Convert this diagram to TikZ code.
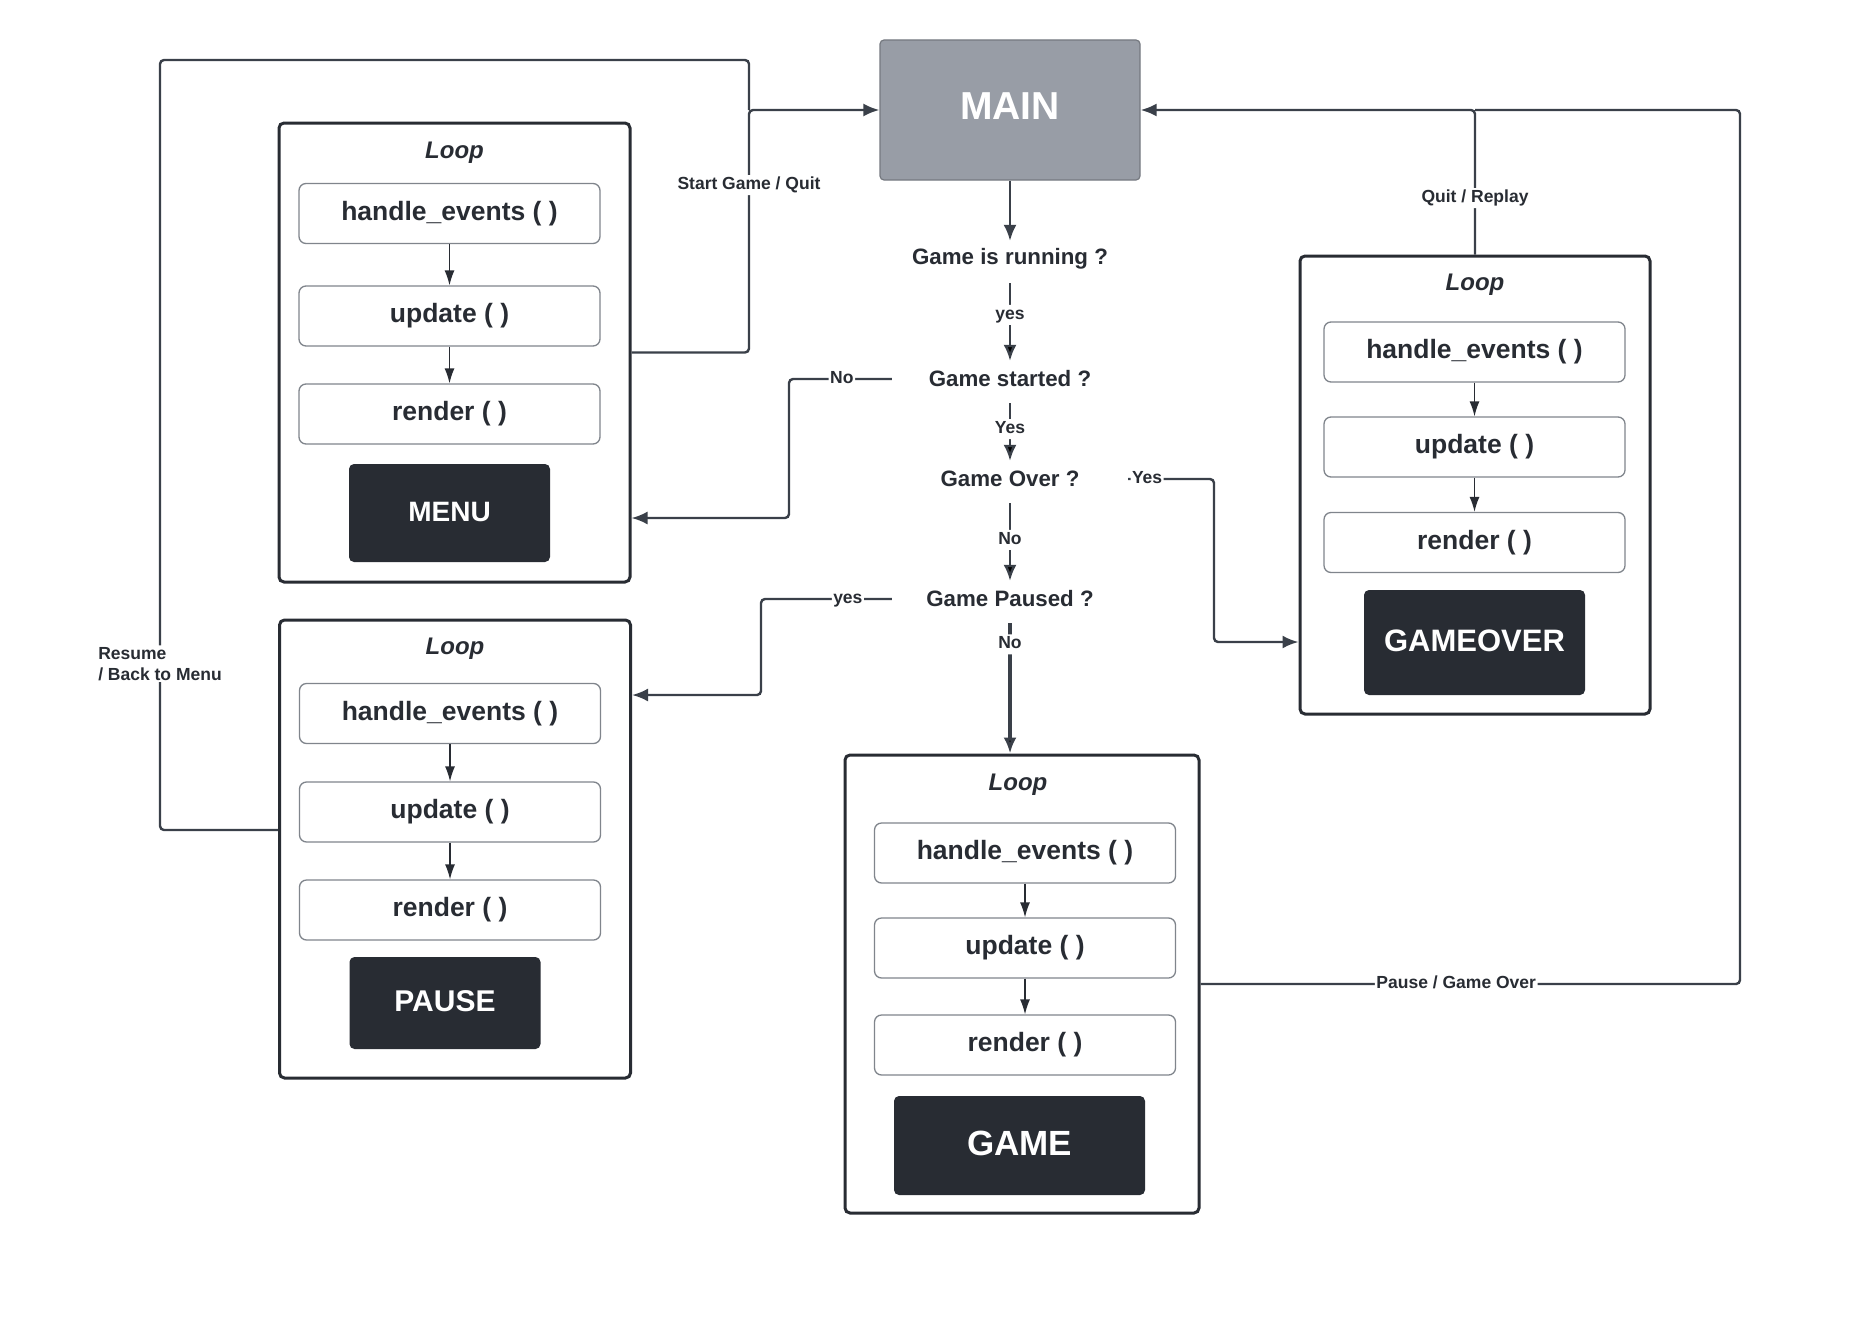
\documentclass[tikz,border=0pt]{standalone}
\usepackage{fontspec}
\setmainfont{Liberation Sans}
\usetikzlibrary{arrows.meta}
\definecolor{ink}{HTML}{282C33}
\definecolor{wirecol}{HTML}{3A4049}
\definecolor{mainfill}{HTML}{989DA6}
\definecolor{boxline}{HTML}{80858C}
\tikzset{
  loopbox/.style={draw=ink,line width=3pt,rounded corners=5pt,fill=white},
  fnbox/.style={draw=boxline,line width=1.3pt,rounded corners=7pt,minimum width=301pt,minimum height=60pt,text=ink,font=\fontsize{26.5}{30}\selectfont\bfseries},
  statebox/.style={fill=ink,rounded corners=5pt,text=white},
  looptitle/.style={text=ink,font=\fontsize{24}{28}\selectfont\bfseries\itshape},
  decision/.style={minimum width=236pt,minimum height=36pt,text=ink,font=\fontsize{22.3}{26}\selectfont\bfseries},
  lbl/.style={fill=white,inner sep=1.5pt,text=ink,text height=13pt,text depth=4pt,font=\fontsize{17.5}{21}\selectfont\bfseries},
  wire/.style={draw=wirecol,line width=2.4pt,rounded corners=4pt},
  innerarrow/.style={draw=ink,line width=1.3pt,-{Latex[length=15pt,width=10pt]}}
}
\begin{document}
\begin{tikzpicture}[x=1pt,y=-1pt,>={Latex[length=16pt,width=13pt]}]
\path[fill=white] (0,0) rectangle (1870,1322);

\node(Main)[draw=wirecol!70,line width=1.2pt,fill=mainfill,rounded corners=4pt,minimum width=260pt,minimum height=140pt,text=white,font=\fontsize{39}{44}\selectfont\bfseries] at (1010,110){\raisebox{7pt}{MAIN}};

\node(Run)[decision] at (1010,259){Game is running ?};
\node(Start)[decision] at (1010,379){Game started ?};
\node(Over)[decision] at (1010,479){Game Over ?};
\node(Paused)[decision] at (1010,599){Game Paused ?};

% menu
\node(MenuLoop)[loopbox,minimum width=351pt,minimum height=459pt] at (454.5,352.5){};
\node(MenuTitle)[looptitle] at (454.5,153){Loop};
\node(MenuEv)[fnbox] at (449.5,213.5){handle\_events ( )};
\node(MenuUp)[fnbox] at (449.5,316){update ( )};
\node(MenuRe)[fnbox] at (449.5,414){render ( )};
\node(Menu)[statebox,minimum width=201pt,minimum height=98pt,font=\fontsize{28}{32}\selectfont\bfseries] at (449.5,513){\raisebox{3pt}{MENU}};

% pause
\node(PauseLoop)[loopbox,minimum width=351pt,minimum height=458pt] at (455,849){};
\node(PauseTitle)[looptitle] at (455,649){Loop};
\node(PauseEv)[fnbox] at (450,713.5){handle\_events ( )};
\node(PauseUp)[fnbox] at (450,812){update ( )};
\node(PauseRe)[fnbox] at (450,910){render ( )};
\node(Pause)[statebox,minimum width=191pt,minimum height=92pt,font=\fontsize{30}{34}\selectfont\bfseries] at (445,1003){\raisebox{3pt}{PAUSE}};

% game
\node(GameLoop)[loopbox,minimum width=354pt,minimum height=458pt] at (1022,984){};
\node(GameTitle)[looptitle] at (1018,785){Loop};
\node(GameEv)[fnbox] at (1025,853){handle\_events ( )};
\node(GameUp)[fnbox] at (1025,948){update ( )};
\node(GameRe)[fnbox] at (1025,1045){render ( )};
\node(Game)[statebox,minimum width=251pt,minimum height=99pt,font=\fontsize{35}{40}\selectfont\bfseries] at (1019.5,1145.5){\raisebox{4pt}{GAME}};

% game over
\node(GOLoop)[loopbox,minimum width=350pt,minimum height=458pt] at (1475,485){};
\node(GOTitle)[looptitle] at (1475,285){Loop};
\node(GOEv)[fnbox] at (1474.5,352){handle\_events ( )};
\node(GOUp)[fnbox] at (1474.5,447){update ( )};
\node(GORe)[fnbox] at (1474.5,542.5){render ( )};
\node(GameOver)[statebox,minimum width=221pt,minimum height=105pt,font=\fontsize{31}{36}\selectfont\bfseries] at (1474.5,642.5){\raisebox{3pt}{GAMEOVER}};

\draw (MenuEv.south) edge[innerarrow] (MenuUp.north);
\draw (MenuUp.south) edge[innerarrow] (MenuRe.north);
\draw (PauseEv.south) edge[innerarrow] (PauseUp.north);
\draw (PauseUp.south) edge[innerarrow] (PauseRe.north);
\draw (GameEv.south) edge[innerarrow] (GameUp.north);
\draw (GameUp.south) edge[innerarrow] (GameRe.north);
\draw (GOEv.south) edge[innerarrow] (GOUp.north);
\draw (GOUp.south) edge[innerarrow] (GORe.north);

% decisions
\draw[wire,->] (Main.south) -- (Run.north);
\draw[wire,shorten <=6pt] (Run.south) edge[->] node[lbl,pos=.45]{yes} (Start.north);
\draw[wire,shorten <=6pt] (Start.south) edge[->] node[lbl,pos=.5]{Yes} (Over.north);
\draw[wire,shorten <=6pt] (Over.south) edge[->] node[lbl,pos=.51]{No} (Paused.north);
\draw[wire,line width=3.2pt,shorten <=6pt] (Paused.south) edge[->] node[lbl,pos=.2]{No} (Paused.south |- GameLoop.north);

\coordinate(cNo) at (789,518);
\coordinate(cYesP) at (761,695);
\coordinate(cYesO) at (1214,642);
\draw[wire,->] (Start.west) -| node[lbl,pos=.243]{No} (cNo) -- (MenuLoop.east |- cNo);
\draw[wire,->] (Paused.west) -| node[lbl,pos=.168]{yes} (cYesP) -- (PauseLoop.east |- cYesP);
\draw[wire,->] (Over.east) -| node[lbl,pos=.11]{Yes} (cYesO) -- (GOLoop.west |- cYesO);

% back to main
\coordinate(jMain) at (749,110);
\coordinate(cBack) at (160,60);
\coordinate(cRight) at (1740,110);
\draw[wire] ([yshift=19pt]PauseLoop.west) -| node[lbl,align=left,text height=,text depth=,pos=.608]{Resume\\/ Back to Menu} (cBack) -| (jMain);
\draw[wire,->] (MenuLoop.east) -| node[lbl,pos=.845]{Start Game / Quit} (jMain) -- (Main.west);
\draw[wire] (GameLoop.east) -| node[lbl,pos=.237]{Pause / Game Over} (cRight) -- (GOLoop.north |- cRight);
\draw[wire,->] (GOLoop.north) |- node[lbl,pos=.195]{Quit / Replay} (Main.east);
\end{tikzpicture}
\end{document}
